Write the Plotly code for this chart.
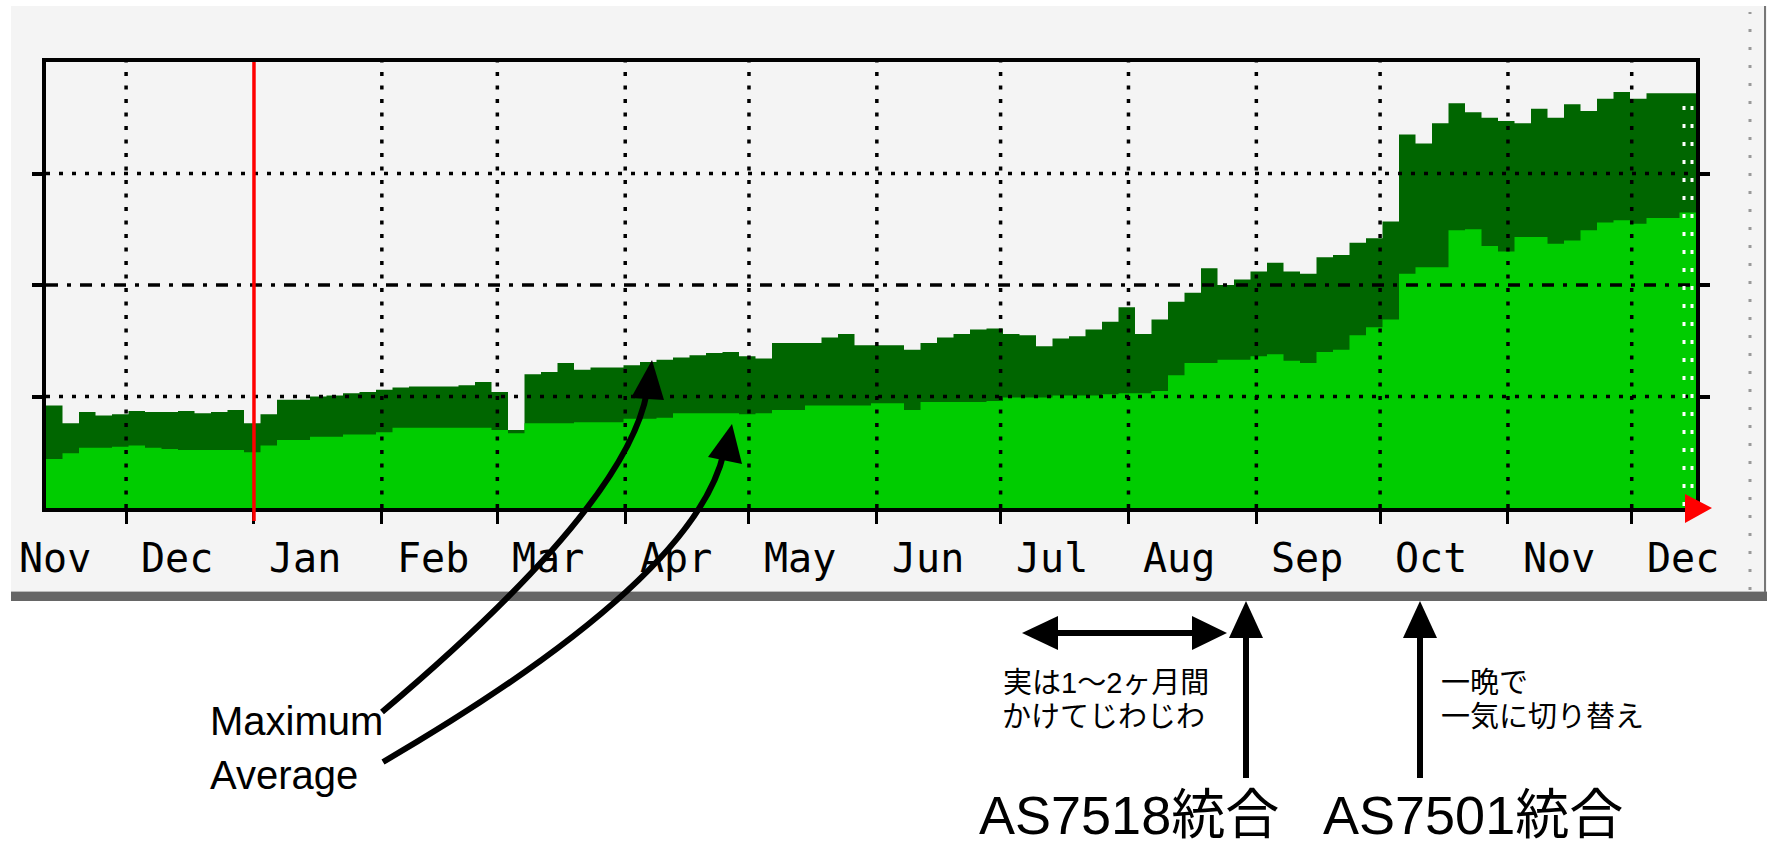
import pandas as pd
import plotly.graph_objects as go

# ---------------- data ----------------
range_start = pd.Timestamp("2002-11-11 14:00")
step_days = 4

max_vals = [0.92, 0.76, 0.86, 0.83, 0.84, 0.87, 0.86, 0.86, 0.87, 0.85,
            0.86, 0.88, 0.76, 0.84, 0.97, 0.97, 1.00, 1.01, 1.03, 1.04,
            1.06, 1.08, 1.09, 1.09, 1.09, 1.10, 1.13, 1.04, 0.70, 1.20,
            1.22, 1.30, 1.24, 1.26, 1.26, 1.28, 1.31, 1.33, 1.35, 1.37,
            1.39, 1.40, 1.36, 1.34, 1.48, 1.48, 1.48, 1.53, 1.56, 1.46,
            1.46, 1.46, 1.42, 1.48, 1.53, 1.56, 1.60, 1.61, 1.56, 1.55,
            1.45, 1.52, 1.54, 1.60, 1.67, 1.80, 1.56, 1.69, 1.85, 1.93,
            2.15, 2.00, 2.05, 2.12, 2.20, 2.12, 2.10, 2.25, 2.27, 2.38,
            2.42, 2.57, 3.35, 3.27, 3.45, 3.63, 3.55, 3.50, 3.47, 3.45,
            3.58, 3.50, 3.62, 3.56, 3.67, 3.73, 3.67, 3.72, 3.72, 3.72]

avg_vals = [0.44, 0.49, 0.54, 0.54, 0.55, 0.56, 0.54, 0.53, 0.52, 0.52,
            0.52, 0.52, 0.50, 0.56, 0.61, 0.61, 0.64, 0.64, 0.66, 0.66,
            0.68, 0.72, 0.72, 0.72, 0.72, 0.72, 0.72, 0.70, 0.67, 0.76,
            0.76, 0.76, 0.77, 0.77, 0.77, 0.80, 0.80, 0.81, 0.85, 0.85,
            0.85, 0.85, 0.84, 0.85, 0.88, 0.88, 0.92, 0.92, 0.92, 0.92,
            0.94, 0.94, 0.88, 0.95, 0.95, 0.95, 0.95, 0.96, 0.99, 0.99,
            0.99, 1.01, 1.01, 1.01, 1.02, 1.03, 1.03, 1.05, 1.19, 1.30,
            1.30, 1.33, 1.33, 1.36, 1.38, 1.32, 1.30, 1.40, 1.42, 1.55,
            1.62, 1.69, 2.10, 2.16, 2.16, 2.49, 2.50, 2.35, 2.30, 2.43,
            2.43, 2.37, 2.40, 2.49, 2.56, 2.58, 2.55, 2.60, 2.60, 2.65]

month_labels = ["Nov", "Dec", "Jan", "Feb", "Mar", "Apr", "May", "Jun",
                "Jul", "Aug", "Sep", "Oct", "Nov", "Dec"]
month_starts = list(pd.date_range("2002-12-01", "2003-12-01", freq="MS"))
year_boundary = pd.Timestamp("2003-01-01")
y_grid = [1, 2, 3]
y_max = 4

# ---------------- geometry helpers ----------------
W, H = 1767, 847
L, R, T, B = 46, 1696, 62, 508


def px(x):
    return (x - L) / (R - L)


def py(y):
    return (B - y) / (B - T)


dates = [range_start + pd.Timedelta(days=step_days * i) for i in range(len(max_vals) + 1)]
max_y = max_vals + [max_vals[-1]]
avg_y = avg_vals + [avg_vals[-1]]

fig = go.Figure()
fig.add_trace(go.Scatter(x=dates, y=max_y, mode="lines", line=dict(width=0, shape="hv"),
                         fill="tozeroy", fillcolor="#006600", name="Maximum",
                         showlegend=False, hoverinfo="skip"))
fig.add_trace(go.Scatter(x=dates, y=avg_y, mode="lines", line=dict(width=0, shape="hv"),
                         fill="tozeroy", fillcolor="#00cc00", name="Average",
                         showlegend=False, hoverinfo="skip"))

shapes = []
# grey panel and bottom bar
shapes.append(dict(type="rect", xref="paper", yref="paper", x0=px(11), x1=px(1767),
                   y0=py(592), y1=py(6), fillcolor="#f4f4f4", line=dict(width=0), layer="below"))
shapes.append(dict(type="rect", xref="paper", yref="paper", x0=px(11), x1=px(1767),
                   y0=py(601), y1=py(592), fillcolor="#666666", line=dict(width=0), layer="below"))
shapes.append(dict(type="line", xref="paper", yref="paper", x0=px(11), x1=px(1767),
                   y0=py(591.5), y1=py(591.5), line=dict(color="#bbbbbb", width=1), layer="below"))
# right edge artefacts
shapes.append(dict(type="line", xref="paper", yref="paper", x0=px(1750), x1=px(1750),
                   y0=py(590), y1=py(12), line=dict(color="#999999", width=3, dash="3px,15px")))
shapes.append(dict(type="line", xref="paper", yref="paper", x0=px(1765), x1=px(1765),
                   y0=py(592), y1=py(6), line=dict(color="#777777", width=2)))

# horizontal grid lines (above data)
for v in y_grid:
    dash = "12px,9px,4px,9px" if v == 2 else "4px,9px"
    shapes.append(dict(type="line", xref="paper", yref="y", x0=0, x1=1, y0=v, y1=v,
                       line=dict(color="black", width=3.5, dash=dash), layer="above"))
# vertical month grid lines
for d in month_starts:
    if d == year_boundary:
        continue
    shapes.append(dict(type="line", xref="x", yref="paper", x0=d, x1=d, y0=0, y1=1,
                       line=dict(color="black", width=3.5, dash="4px,9.5px"), layer="above"))
# white dotted artefact columns at the right edge
for xx in (1684, 1692):
    shapes.append(dict(type="line", xref="paper", yref="paper", x0=px(xx), x1=px(xx),
                       y0=py(506), y1=py(102), line=dict(color="white", width=3, dash="4px,14px"),
                       layer="above"))
# red year boundary line
shapes.append(dict(type="line", xref="x", yref="paper", x0=year_boundary, x1=year_boundary,
                   y0=py(521), y1=1, line=dict(color="#ff0000", width=3.5), layer="above"))
# red "now" arrow
shapes.append(dict(type="path", xref="paper", yref="paper",
                   path=f"M {px(1685)},{py(494)} L {px(1712)},{py(508)} L {px(1685)},{py(523)} Z",
                   fillcolor="#ff0000", line=dict(width=0), layer="above"))


def curve(p0, c, p1):
    return (f"M {px(p0[0])},{py(p0[1])} Q {px(c[0])},{py(c[1])} "
            f"{px(p1[0])},{py(p1[1])}")


def tri(a, b, c):
    return (f"M {px(a[0])},{py(a[1])} L {px(b[0])},{py(b[1])} "
            f"L {px(c[0])},{py(c[1])} Z")


blk = dict(color="black", width=6)
# Maximum arrow
shapes.append(dict(type="path", xref="paper", yref="paper",
                   path=curve((382, 712), (626, 506), (647, 392)), line=blk))
shapes.append(dict(type="path", xref="paper", yref="paper",
                   path=tri((652, 360), (631, 398), (664, 400)),
                   fillcolor="black", line=dict(width=0)))
# Average arrow
shapes.append(dict(type="path", xref="paper", yref="paper",
                   path=curve((383, 762), (695, 580), (724, 452)), line=blk))
shapes.append(dict(type="path", xref="paper", yref="paper",
                   path=tri((732, 424), (708, 457), (742, 464)),
                   fillcolor="black", line=dict(width=0)))
# double arrow
shapes.append(dict(type="line", xref="paper", yref="paper", x0=px(1050), x1=px(1200),
                   y0=py(633), y1=py(633), line=blk))
shapes.append(dict(type="path", xref="paper", yref="paper",
                   path=tri((1022, 633), (1058, 616), (1058, 650)),
                   fillcolor="black", line=dict(width=0)))
shapes.append(dict(type="path", xref="paper", yref="paper",
                   path=tri((1227, 633), (1192, 616), (1192, 650)),
                   fillcolor="black", line=dict(width=0)))
# vertical arrows
for xx in (1246, 1420):
    shapes.append(dict(type="line", xref="paper", yref="paper", x0=px(xx), x1=px(xx),
                       y0=py(778), y1=py(630), line=blk))
    shapes.append(dict(type="path", xref="paper", yref="paper",
                       path=tri((xx, 601), (xx - 17, 638), (xx + 17, 638)),
                       fillcolor="black", line=dict(width=0)))

annotations = []
lab_font = dict(family="DejaVu Sans Mono", size=40, color="black")
annotations.append(dict(x=dates[0], xref="x", y=py(558), yref="paper", text=month_labels[0],
                        showarrow=False, xanchor="left", yanchor="middle", xshift=-29,
                        font=lab_font))
for d, lab in zip(month_starts, month_labels[1:]):
    annotations.append(dict(x=d, xref="x", y=py(558), yref="paper", text=lab,
                            showarrow=False, xanchor="left", yanchor="middle", xshift=13,
                            font=lab_font))

lat = dict(family="Liberation Sans, Noto Sans CJK JP", size=40, color="black")
annotations.append(dict(x=px(208), y=py(721), xref="paper", yref="paper", text="Maximum",
                        showarrow=False, xanchor="left", yanchor="middle", font=lat))
annotations.append(dict(x=px(208), y=py(775), xref="paper", yref="paper", text="Average",
                        showarrow=False, xanchor="left", yanchor="middle", font=lat))

jp = dict(family="Liberation Sans, Noto Sans CJK JP", size=29, color="black")
jp_lines = [("実は1～2ヶ月間", 1106, 683, "center"), ("かけてじわじわ", 1103, 717, "center"),
            ("一晩で", 1440, 683, "left"), ("一気に切り替え", 1440, 717, "left")]
for txt, xx, yy, anc in jp_lines:
    annotations.append(dict(x=px(xx), y=py(yy), xref="paper", yref="paper", text=txt,
                            showarrow=False, xanchor=anc, yanchor="middle", borderpad=0,
                            font=jp))

big = dict(family="Liberation Sans, Noto Sans CJK JP", size=54, color="black")
annotations.append(dict(x=px(1129), y=py(846), xref="paper", yref="paper", text="AS7518統合",
                        showarrow=False, xanchor="center", yanchor="bottom", borderpad=0,
                        font=big))
annotations.append(dict(x=px(1473), y=py(846), xref="paper", yref="paper", text="AS7501統合",
                        showarrow=False, xanchor="center", yanchor="bottom", borderpad=0,
                        font=big))

fig.update_layout(
    width=W, height=H,
    margin=dict(l=L, r=W - R, t=T, b=H - B, pad=0),
    paper_bgcolor="white",
    plot_bgcolor="rgba(0,0,0,0)",
    showlegend=False,
    shapes=shapes,
    annotations=annotations,
    xaxis=dict(type="date", range=[dates[0], dates[-1]], showgrid=False, zeroline=False,
               showline=True, linecolor="black", linewidth=4, mirror=True,
               ticks="outside", tickvals=month_starts, ticklen=12, tickwidth=3,
               tickcolor="black", showticklabels=False, fixedrange=True),
    yaxis=dict(range=[0, y_max], showgrid=False, zeroline=False,
               showline=True, linecolor="black", linewidth=4, mirror="ticks",
               ticks="outside", tickvals=y_grid, ticklen=10, tickwidth=4,
               tickcolor="black", showticklabels=False, fixedrange=True),
)

fig.write_html("out.html", config={"displayModeBar": False},
               post_script="document.body.style.margin='0px';document.body.style.padding='0px';")
